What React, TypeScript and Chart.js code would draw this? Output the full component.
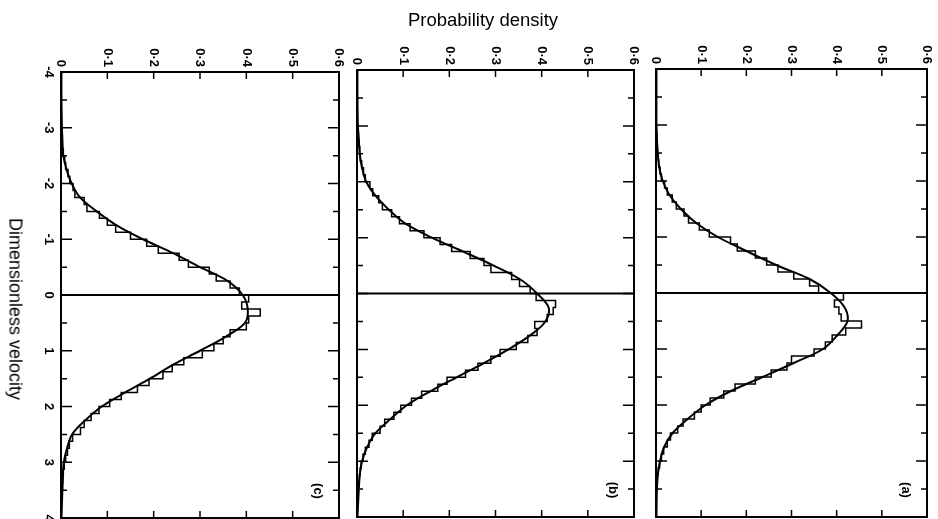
import React, { useEffect, useRef } from "react";
import { Chart, registerables } from "chart.js";

Chart.register(...registerables);

// ---- tick values / labels ----
const densityTicks = [0, 0.1, 0.2, 0.3, 0.4, 0.5, 0.6];
const densityTickLabels = ["0", "0·1", "0·2", "0·3", "0·4", "0·5", "0·6"];
const velocityTicks = [-4, -3, -2, -1, 0, 1, 2, 3, 4];
const velocityTickLabels = ["-4", "-3", "-2", "-1", "0", "1", "2", "3", "4"];
const velocityMinorTicks = [-3.5, -2.5, -1.5, -0.5, 0.5, 1.5, 2.5, 3.5];

// ---- smooth curves (density at velocity) ----
const curveVelocity = [
  -4, -3.5, -3, -2.75, -2.5, -2.25, -2, -1.75, -1.5, -1.25, -1, -0.75, -0.5, -0.25, 0,
  0.25, 0.5, 0.75, 1, 1.25, 1.5, 1.75, 2, 2.25, 2.5, 2.75, 3, 3.25, 3.5, 4,
];
const curveC = [
  0.001, 0.001, 0.002, 0.003, 0.005, 0.012, 0.023, 0.041, 0.077, 0.12, 0.177, 0.242, 0.3, 0.36, 0.392,
  0.403, 0.397, 0.355, 0.3, 0.242, 0.192, 0.138, 0.088, 0.052, 0.024, 0.013, 0.006, 0.004, 0.003, 0.001,
];
const curveB = [
  0.001, 0.001, 0.002, 0.004, 0.006, 0.011, 0.02, 0.04, 0.069, 0.105, 0.162, 0.23, 0.296, 0.354, 0.39,
  0.415, 0.408, 0.375, 0.328, 0.274, 0.216, 0.159, 0.108, 0.072, 0.04, 0.022, 0.011, 0.006, 0.004, 0.001,
];
const curveA = [
  0.001, 0.001, 0.001, 0.002, 0.004, 0.007, 0.015, 0.03, 0.055, 0.089, 0.137, 0.2, 0.266, 0.34, 0.387,
  0.417, 0.424, 0.402, 0.37, 0.305, 0.236, 0.166, 0.11, 0.07, 0.037, 0.018, 0.009, 0.004, 0.002, 0.001,
];

// ---- histograms: bins of width 0.125 starting at velocity -3 ----
const histStart = -3;
const histWidth = 0.125;
const histC = [
  0.002, 0.003, 0.003, 0.005, 0.008, 0.01, 0.015, 0.019, 0.026, 0.03, 0.05, 0.056, 0.083,
  0.1, 0.118, 0.15, 0.185, 0.21, 0.255, 0.275, 0.32, 0.335, 0.365, 0.385, 0.405, 0.39,
  0.43, 0.405, 0.4, 0.365, 0.35, 0.33, 0.305, 0.265, 0.24, 0.22, 0.19, 0.165, 0.13,
  0.105, 0.082, 0.065, 0.05, 0.042, 0.025, 0.018, 0.014, 0.01, 0.007, 0.005, 0.004, 0.003,
];
const histB = [
  0.002, 0.003, 0.004, 0.006, 0.007, 0.01, 0.014, 0.018, 0.028, 0.034, 0.047, 0.055, 0.075,
  0.092, 0.115, 0.145, 0.18, 0.205, 0.245, 0.275, 0.29, 0.335, 0.352, 0.375, 0.388, 0.43,
  0.425, 0.412, 0.385, 0.39, 0.37, 0.345, 0.31, 0.29, 0.262, 0.235, 0.195, 0.175, 0.14,
  0.118, 0.095, 0.08, 0.06, 0.05, 0.033, 0.026, 0.018, 0.013, 0.009, 0.007, 0.005, 0.003,
];
const histA = [
  0.001, 0.002, 0.002, 0.003, 0.005, 0.006, 0.009, 0.012, 0.019, 0.025, 0.036, 0.045, 0.062,
  0.072, 0.096, 0.118, 0.165, 0.18, 0.22, 0.245, 0.27, 0.305, 0.34, 0.36, 0.415, 0.395,
  0.405, 0.41, 0.455, 0.42, 0.39, 0.375, 0.35, 0.3, 0.29, 0.255, 0.22, 0.175, 0.15,
  0.12, 0.1, 0.085, 0.06, 0.048, 0.032, 0.025, 0.017, 0.012, 0.008, 0.005, 0.003, 0.002,
];

const panelLabels = ["(c)", "(b)", "(a)"];

const W = 938;
const H = 519;

type PanelProps = {
  curve: number[];
  hist: number[];
  label: string;
  area: { left: number; right: number; top: number; bottom: number };
  showVelocityLabels: boolean;
};

const TICK_FONT = "bold 13px 'Liberation Sans', Arial, sans-serif";

function Panel({ curve, hist, label, area, showVelocityLabels }: PanelProps) {
  const ref = useRef<HTMLCanvasElement | null>(null);

  useEffect(() => {
    if (!ref.current) return;
    const curvePts = curveVelocity.map((v, i) => ({ x: curve[i], y: v }));
    const histPts = hist.map((d, i) => ({ x: d, y: histStart + i * histWidth }));
    histPts.push({ x: hist[hist.length - 1], y: histStart + hist.length * histWidth });
    const zeroLine = [
      { x: 0, y: 0 },
      { x: 0.6, y: 0 },
    ];

    const framePlugin = {
      id: "frame",
      afterDraw(chart: any) {
        const ctx = chart.ctx as CanvasRenderingContext2D;
        const xs = chart.scales.x;
        const ys = chart.scales.y;
        const ca = chart.chartArea;
        ctx.save();
        ctx.strokeStyle = "#000";
        ctx.fillStyle = "#000";
        // frame
        ctx.lineWidth = 2;
        ctx.strokeRect(ca.left, ca.top, ca.right - ca.left, ca.bottom - ca.top);
        // density ticks (top and bottom, inward)
        ctx.lineWidth = 1.5;
        densityTicks.forEach((d) => {
          if (d === 0 || d === 0.6) return;
          const px = xs.getPixelForValue(d);
          ctx.beginPath();
          ctx.moveTo(px, ca.top);
          ctx.lineTo(px, ca.top + 7);
          ctx.moveTo(px, ca.bottom);
          ctx.lineTo(px, ca.bottom - 7);
          ctx.stroke();
        });
        // velocity ticks (left and right, inward)
        const drawVTick = (v: number, len: number) => {
          const py = ys.getPixelForValue(v);
          ctx.beginPath();
          ctx.moveTo(ca.left, py);
          ctx.lineTo(ca.left + len, py);
          ctx.moveTo(ca.right, py);
          ctx.lineTo(ca.right - len, py);
          ctx.stroke();
        };
        velocityTicks.forEach((v) => drawVTick(v, 11));
        velocityMinorTicks.forEach((v) => drawVTick(v, 6));

        // density tick labels (rotated clockwise)
        ctx.font = TICK_FONT;
        densityTicks.forEach((d, i) => {
          const px = xs.getPixelForValue(d);
          ctx.save();
          ctx.translate(px, ca.top - 5);
          ctx.rotate(Math.PI / 2);
          ctx.textAlign = "right";
          ctx.textBaseline = "middle";
          ctx.fillText(densityTickLabels[i], 0, 0);
          ctx.restore();
        });
        // velocity labels
        if (showVelocityLabels) {
          velocityTicks.forEach((v, i) => {
            const py = ys.getPixelForValue(v);
            ctx.save();
            ctx.translate(ca.left - 12, py);
            ctx.rotate(Math.PI / 2);
            ctx.textAlign = "center";
            ctx.textBaseline = "middle";
            ctx.fillText(velocityTickLabels[i], 0, 0);
            ctx.restore();
          });
        }
        // panel label
        ctx.save();
        ctx.font = "bold 13px 'Liberation Sans', Arial, sans-serif";
        ctx.translate(ca.right - 21, ca.bottom - 27);
        ctx.rotate(Math.PI / 2);
        ctx.textAlign = "center";
        ctx.textBaseline = "middle";
        ctx.fillText(label, 0, 0);
        ctx.restore();
        ctx.restore();
      },
    };

    const chart = new Chart(ref.current, {
      type: "scatter",
      data: {
        datasets: [
          {
            data: zeroLine,
            showLine: true,
            borderColor: "#000",
            borderWidth: 2,
            pointRadius: 0,
          },
          {
            data: curvePts,
            showLine: true,
            borderColor: "#000",
            borderWidth: 2,
            tension: 0.35,
            pointRadius: 0,
          },
          {
            data: histPts,
            showLine: true,
            stepped: "after",
            borderColor: "#000",
            borderWidth: 1.5,
            pointRadius: 0,
          },
        ],
      },
      options: {
        responsive: false,
        animation: false,
        events: [],
        layout: {
          padding: {
            left: area.left,
            right: W - area.right,
            top: area.top,
            bottom: H - area.bottom,
          },
        },
        scales: {
          x: { type: "linear", min: 0, max: 0.6, display: false },
          y: { type: "linear", min: -4, max: 4, reverse: true, display: false },
        },
        plugins: {
          legend: { display: false },
          tooltip: { enabled: false },
        },
      },
      plugins: [framePlugin],
    } as any);

    return () => chart.destroy();
  }, [curve, hist, label, area, showVelocityLabels]);

  return (
    <canvas
      ref={ref}
      width={W}
      height={H}
      style={{ position: "absolute", left: 0, top: 0, width: W, height: H }}
    />
  );
}

const areaC = { left: 61, right: 339, top: 72, bottom: 518 };
const areaB = { left: 357, right: 634, top: 70, bottom: 517 };
const areaA = { left: 656, right: 927, top: 69, bottom: 517 };

export default function App() {
  return (
    <div
      style={{
        position: "absolute",
        left: 0,
        top: 0,
        width: W,
        height: H,
        background: "#fff",
        overflow: "hidden",
        fontFamily: "'Liberation Sans', Arial, sans-serif",
        color: "#000",
      }}
    >
      <Panel curve={curveC} hist={histC} label={panelLabels[0]} area={areaC} showVelocityLabels={true} />
      <Panel curve={curveB} hist={histB} label={panelLabels[1]} area={areaB} showVelocityLabels={false} />
      <Panel curve={curveA} hist={histA} label={panelLabels[2]} area={areaA} showVelocityLabels={false} />
      <div
        style={{
          position: "absolute",
          left: 483,
          top: 20,
          transform: "translate(-50%, -50%)",
          fontSize: 18.5,
          whiteSpace: "nowrap",
        }}
      >
        Probability density
      </div>
      <div
        style={{
          position: "absolute",
          left: 15,
          top: 309,
          transform: "translate(-50%, -50%) rotate(90deg)",
          fontSize: 18,
          whiteSpace: "nowrap",
        }}
      >
        Dimensionless velocity
      </div>
    </div>
  );
}
